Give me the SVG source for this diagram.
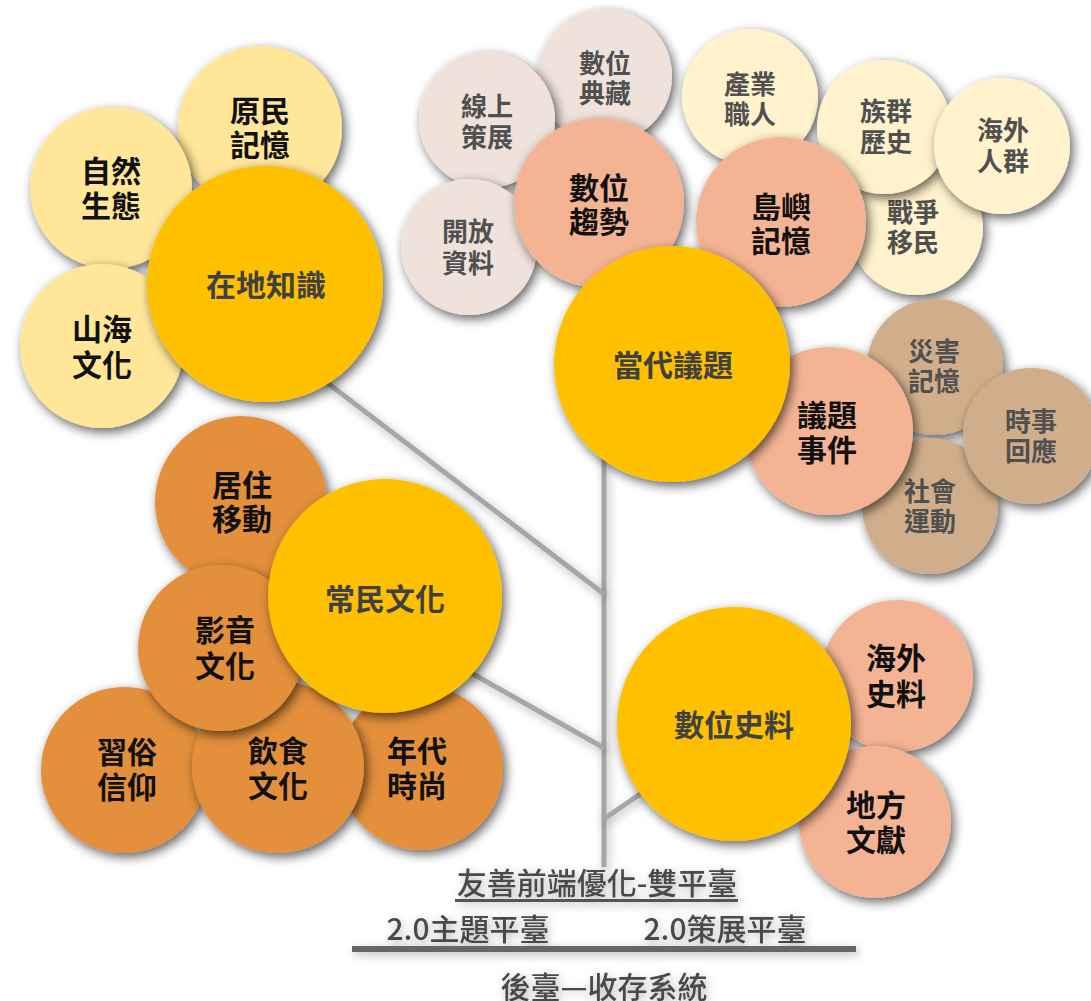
<svg xmlns="http://www.w3.org/2000/svg" width="1091" height="1001" viewBox="0 0 1091 1001">
<defs>
<filter id="sh" x="-30%" y="-30%" width="160%" height="160%">
<feDropShadow dx="3" dy="4" stdDeviation="5.5" flood-color="#000" flood-opacity="0.62"/>
</filter>
<filter id="shl" filterUnits="userSpaceOnUse" x="0" y="0" width="1091" height="1001">
<feDropShadow dx="2" dy="3" stdDeviation="5" flood-color="#000" flood-opacity="0.3"/>
</filter>
<style>
.main{fill:#FFC000}
.ly{fill:#FFE699}
.sal{fill:#F4B494}
.beige{fill:#EEE2DA}
.cream{fill:#FFF2CC}
.tan{fill:#D1AE8B}
.or{fill:#E38F3A}
circle{filter:url(#sh)}
text{font-family:"Noto Sans CJK TC","Noto Sans CJK SC",sans-serif;text-anchor:middle;font-weight:700}
.tm{font-size:30px;fill:#404040}
.tb{font-size:30px;fill:#111}
.tg{font-size:26px;fill:#505050}
.bt{font-size:30px;fill:#4a4a4a;font-weight:500;filter:url(#shl)}
.ln{stroke:#A6A6A6;stroke-width:5;fill:none;filter:url(#shl)}
</style>
</defs>
<rect width="1091" height="1001" fill="#fff"/>
<g id="connectors">
<path class="ln" d="M604 420 V867"/>
<path class="ln" d="M300 362 L604 594"/>
<path class="ln" d="M420 644 L604 748"/>
<path class="ln" d="M604 819 L665 777"/>
</g>
<g id="n-yuanmin"><circle class="ly" cx="260" cy="128" r="82"/><text class="tb" x="260" y="122">原民</text><text class="tb" x="260" y="156">記憶</text></g>
<g id="n-ziran"><circle class="ly" cx="111" cy="188" r="81"/><text class="tb" x="111" y="182">自然</text><text class="tb" x="111" y="217">生態</text></g>
<g id="n-shanhai"><circle class="ly" cx="102" cy="346" r="82"/><text class="tb" x="102" y="340">山海</text><text class="tb" x="102" y="376">文化</text></g>
<g id="n-zaidi"><circle class="main" cx="265" cy="284" r="118"/><text class="tm" x="266" y="296">在地知識</text></g>
<g id="n-dianzang"><circle class="beige" cx="605" cy="76" r="67"/><text class="tg" x="605" y="73">數位</text><text class="tg" x="605" y="103">典藏</text></g>
<g id="n-xianshang"><circle class="beige" cx="487" cy="120" r="68"/><text class="tg" x="487" y="116">線上</text><text class="tg" x="487" y="147">策展</text></g>
<g id="n-kaifang"><circle class="beige" cx="469" cy="247" r="68"/><text class="tg" x="468" y="241">開放</text><text class="tg" x="468" y="273">資料</text></g>
<g id="n-qushi"><circle class="sal" cx="599" cy="203" r="85"/><text class="tb" x="599" y="199">數位</text><text class="tb" x="599" y="233">趨勢</text></g>
<g id="n-chanye"><circle class="cream" cx="750" cy="97" r="68"/><text class="tg" x="750" y="94">產業</text><text class="tg" x="750" y="124">職人</text></g>
<g id="n-zhanzheng"><circle class="cream" cx="916" cy="228" r="67"/><text class="tg" x="913" y="222">戰爭</text><text class="tg" x="913" y="252">移民</text></g>
<g id="n-zuqun"><circle class="cream" cx="884" cy="127" r="67"/><text class="tg" x="886" y="121">族群</text><text class="tg" x="886" y="152">歷史</text></g>
<g id="n-haiwairenqun"><circle class="cream" cx="1002" cy="146" r="68"/><text class="tg" x="1003" y="140">海外</text><text class="tg" x="1003" y="171">人群</text></g>
<g id="n-daoyu"><circle class="sal" cx="781" cy="222" r="85"/><text class="tb" x="781" y="218">島嶼</text><text class="tb" x="781" y="252">記憶</text></g>
<g id="n-zaihai"><circle class="tan" cx="935" cy="367" r="68"/><text class="tg" x="934" y="361">災害</text><text class="tg" x="934" y="391">記憶</text></g>
<g id="n-shehui"><circle class="tan" cx="930" cy="506" r="68"/><text class="tg" x="930" y="501">社會</text><text class="tg" x="930" y="531">運動</text></g>
<g id="n-shishi"><circle class="tan" cx="1031" cy="436" r="68"/><text class="tg" x="1031" y="431">時事</text><text class="tg" x="1031" y="461">回應</text></g>
<g id="n-yiti"><circle class="sal" cx="829" cy="431" r="84"/><text class="tb" x="827" y="426">議題</text><text class="tb" x="827" y="461">事件</text></g>
<g id="n-dangdai"><circle class="main" cx="672" cy="364" r="118"/><text class="tm" x="673" y="376">當代議題</text></g>
<g id="n-juzhu"><circle class="or" cx="241" cy="502" r="86"/><text class="tb" x="242" y="496">居住</text><text class="tb" x="242" y="530">移動</text></g>
<g id="n-xisu"><circle class="or" cx="124" cy="770" r="83"/><text class="tb" x="127" y="763">習俗</text><text class="tb" x="127" y="798">信仰</text></g>
<g id="n-niandai"><circle class="or" cx="421" cy="768" r="82"/><text class="tb" x="417" y="762">年代</text><text class="tb" x="417" y="797">時尚</text></g>
<g id="n-yinshi"><circle class="or" cx="278" cy="767" r="86"/><text class="tb" x="278" y="762">飲食</text><text class="tb" x="278" y="797">文化</text></g>
<g id="n-yingyin"><circle class="or" cx="221" cy="648" r="83"/><text class="tb" x="225" y="641">影音</text><text class="tb" x="225" y="677">文化</text></g>
<g id="n-changmin"><circle class="main" cx="385" cy="596" r="117"/><text class="tm" x="385" y="610">常民文化</text></g>
<g id="n-haiwaishiliao"><circle class="sal" cx="897" cy="676" r="76"/><text class="tb" x="896" y="669">海外</text><text class="tb" x="896" y="705">史料</text></g>
<g id="n-difang"><circle class="sal" cx="875" cy="822" r="76"/><text class="tb" x="876" y="816">地方</text><text class="tb" x="876" y="851">文獻</text></g>
<g id="n-shuwei"><circle class="main" cx="734" cy="724" r="117"/><text class="tm" x="734" y="736">數位史料</text></g>
<g id="platform">
<text class="bt" x="597" y="894">友善前端優化-雙平臺</text>
<rect x="455" y="899" width="283" height="3" fill="#555" filter="url(#shl)"/>
<text class="bt" x="468" y="940">2.0主題平臺</text>
<text class="bt" x="725" y="940">2.0策展平臺</text>
<rect x="352" y="946" width="504" height="6" fill="#666" filter="url(#shl)"/>
<text class="bt" x="604" y="998">後臺—收存系統</text>
</g>
</svg>
